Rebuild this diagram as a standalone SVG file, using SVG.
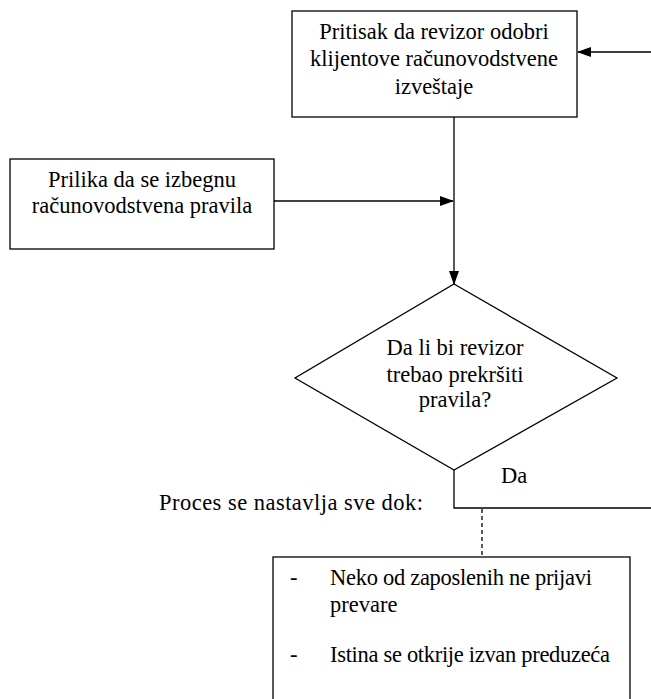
<svg xmlns="http://www.w3.org/2000/svg" width="651" height="699" viewBox="0 0 651 699">
<defs>
<style>
.box{fill:#fff;stroke:#000;stroke-width:1.3}
text{font-family:"Liberation Serif","Times New Roman",serif;font-size:22.5px;fill:#000}
.m{text-anchor:middle}
.c{fill:none;stroke:#000;stroke-width:1.3}
.d{fill:none;stroke:#000;stroke-width:1.3;stroke-dasharray:4,3}
</style>
<marker id="ah" markerWidth="14" markerHeight="10" refX="13" refY="5" orient="auto" markerUnits="userSpaceOnUse">
<path d="M0,0 L14,5 L0,10 z" fill="#000"/>
</marker>
</defs>
<rect width="651" height="699" fill="#fff"/>
<g id="connectors">
<line class="c" x1="651" y1="52" x2="578" y2="52" marker-end="url(#ah)"/>
<line class="c" x1="454" y1="117" x2="454" y2="284" marker-end="url(#ah)"/>
<line class="c" x1="274" y1="201" x2="453" y2="201" marker-end="url(#ah)"/>
<polyline class="c" points="454,470 454,508 651,508"/>
<line class="d" x1="482" y1="509" x2="482" y2="557"/>
</g>
<g id="pressure">
<rect class="box" x="292" y="11" width="285" height="106"/>
<text class="m" x="434" y="39">Pritisak da revizor odobri</text>
<text class="m" x="434" y="66">klijentove računovodstvene</text>
<text class="m" x="434" y="94">izveštaje</text>
</g>
<g id="opportunity">
<rect class="box" x="10" y="159" width="264" height="90"/>
<text class="m" x="142" y="187">Prilika da se izbegnu</text>
<text class="m" x="142" y="213">računovodstvena pravila</text>
</g>
<g id="decision">
<polygon class="box" points="454,284 617,378 454,470 295,378"/>
<text class="m" x="455" y="355">Da li bi revizor</text>
<text class="m" x="455" y="382">trebao prekršiti</text>
<text class="m" x="455" y="407">pravila?</text>
</g>
<g id="yes-label">
<text x="501" y="483">Da</text>
</g>
<g id="process-label">
<text x="159" y="510" textLength="264" lengthAdjust="spacing">Proces se nastavlja sve dok:</text>
</g>
<g id="conditions">
<rect class="box" x="273" y="557" width="357" height="150"/>
<text x="290" y="585">-</text>
<text x="330" y="585" textLength="262" lengthAdjust="spacing">Neko od zaposlenih ne prijavi</text>
<text x="330" y="612">prevare</text>
<text x="290" y="662">-</text>
<text x="330" y="662" textLength="280" lengthAdjust="spacing">Istina se otkrije izvan preduzeća</text>
</g>
</svg>
